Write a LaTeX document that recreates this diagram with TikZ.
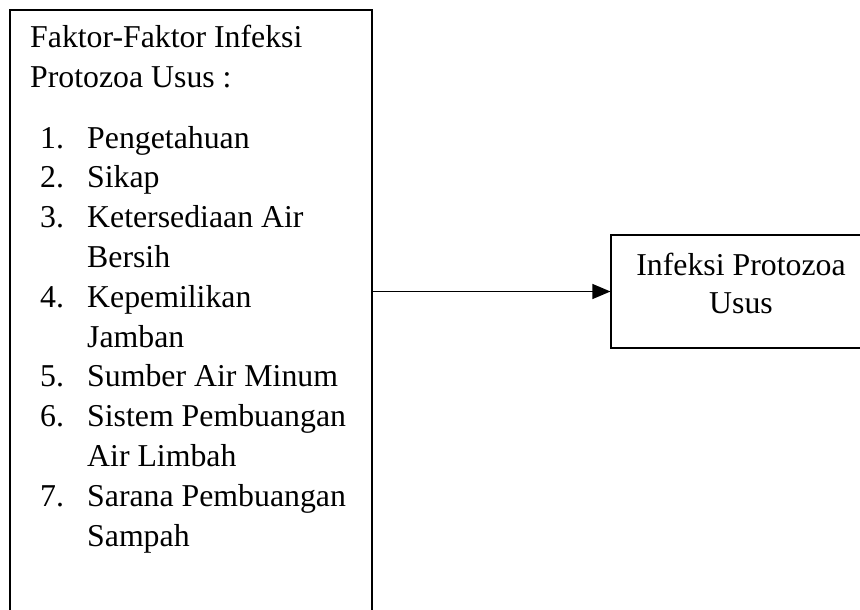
\documentclass[tikz,border=0pt]{standalone}
\usepackage{fontspec}
\setmainfont{Liberation Serif}
\usetikzlibrary{arrows.meta}
\begin{document}
\begin{tikzpicture}[x=1pt,y=-1pt,
  txt/.style={inner sep=0pt,anchor=base west,font=\fontsize{31.8}{39.7}\selectfont},
  ctxt/.style={inner sep=0pt,anchor=base,font=\fontsize{31.8}{39.7}\selectfont},
  boxed/.style={draw=black,line width=1.1pt,inner sep=0pt}]
\useasboundingbox (0,0) rectangle (860,610);
\node[boxed,minimum width=362pt,minimum height=700pt] (left) at (191,360) {};
\node[boxed,minimum width=260pt,minimum height=113pt] (right) at (741,291.5) {};
\draw[line width=1.1pt,-{Triangle[length=18pt,width=15pt]}] (left.east |- right.west) -- (right.west);
\node[txt] (h1) at (30,48) {Faktor-Faktor Infeksi};
\node[txt] (h2) at (30,88) {Protozoa Usus :};
\node[txt] (n1) at (40,148) {1.};
\node[txt] (i1) at (87,148) {Pengetahuan};
\node[txt] (n2) at (40,187.8) {2.};
\node[txt] (i2) at (87,187.8) {Sikap};
\node[txt] (n3) at (40,227.6) {3.};
\node[txt] (i3a) at (87,227.6) {Ketersediaan Air};
\node[txt] (i3b) at (87,267.4) {Bersih};
\node[txt] (n4) at (40,307.2) {4.};
\node[txt] (i4a) at (87,307.2) {Kepemilikan};
\node[txt] (i4b) at (87,347) {Jamban};
\node[txt] (n5) at (40,386.8) {5.};
\node[txt] (i5) at (87,386.8) {Sumber Air Minum};
\node[txt] (n6) at (40,426.6) {6.};
\node[txt] (i6a) at (87,426.6) {Sistem Pembuangan};
\node[txt] (i6b) at (87,466.4) {Air Limbah};
\node[txt] (n7) at (40,506.2) {7.};
\node[txt] (i7a) at (87,506.2) {Sarana Pembuangan};
\node[txt] (i7b) at (87,546) {Sampah};
\node[ctxt] (r1) at (741,275) {Infeksi Protozoa};
\node[ctxt] (r2) at (741,313) {Usus};
\end{tikzpicture}
\end{document}
